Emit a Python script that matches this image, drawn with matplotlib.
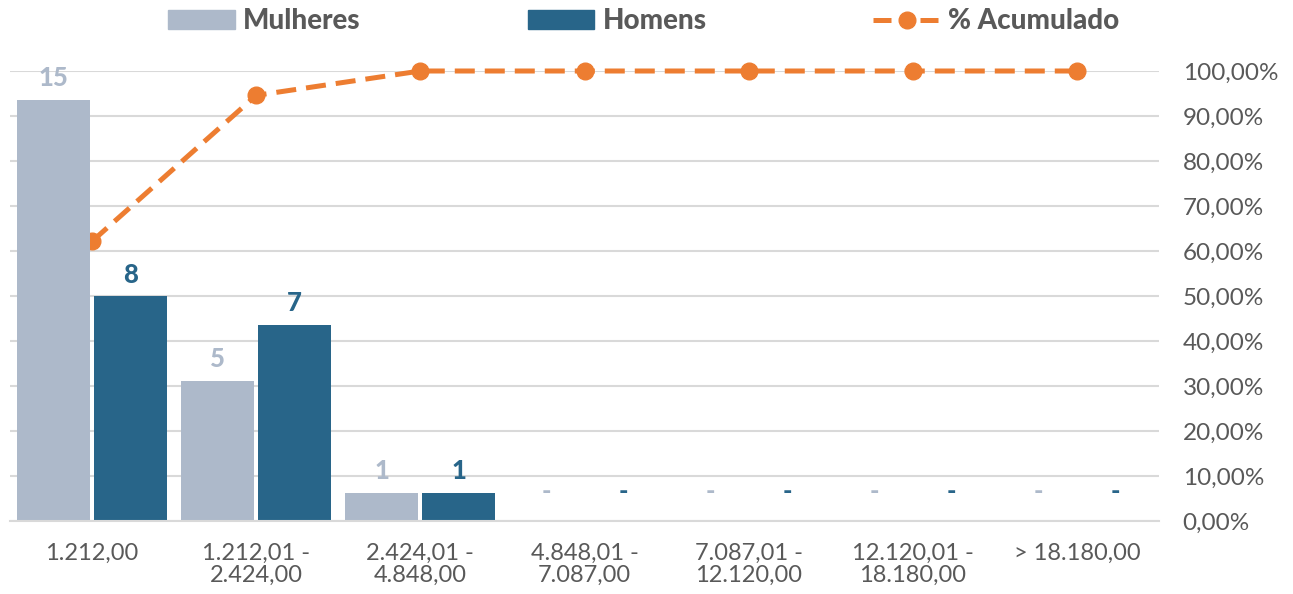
import numpy as np
import matplotlib as mpl
import matplotlib.pyplot as plt
from matplotlib.lines import Line2D
from matplotlib.patches import Patch

mpl.rcParams['font.family'] = ['Lato', 'DejaVu Sans']

# data
categories = ['1.212,00', '1.212,01 -\n2.424,00', '2.424,01 -\n4.848,00',
              '4.848,01 -\n7.087,00', '7.087,01 -\n12.120,00',
              '12.120,01 -\n18.180,00', '> 18.180,00']
mulheres = [15, 5, 1, 0, 0, 0, 0]
homens = [8, 7, 1, 0, 0, 0, 0]
acumulado = [0.6216, 0.9459, 1.0, 1.0, 1.0, 1.0, 1.0]
pct_ticks = [0.0, 0.1, 0.2, 0.3, 0.4, 0.5, 0.6, 0.7, 0.8, 0.9, 1.0]

c_mul = '#ADB9CA'
c_hom = '#286589'
c_acc = '#ED7D31'
c_txt = '#595959'
c_grid = '#D9D9D9'

fig = plt.figure(figsize=(12.93, 5.94), dpi=100)
ax = fig.add_axes([10/1293, 73/594, 1149/1293, 450/594])
ax2 = ax.twinx()

x = np.arange(len(categories))
w = 0.445
off = 0.235
b1 = ax.bar(x - off, mulheres, w, color=c_mul, zorder=2)
b2 = ax.bar(x + off, homens, w, color=c_hom, zorder=2)

for rects, vals, col in [(b1, mulheres, c_mul), (b2, homens, c_hom)]:
    for r, v in zip(rects, vals):
        lab = str(v) if v else '-'
        ax.annotate(lab, (r.get_x() + r.get_width()/2, v), xytext=(0, 7 if v else 12),
                    textcoords='offset points', ha='center', va='bottom',
                    fontsize=18.5, fontweight='black', color=col)

ax.set_xlim(-0.5, len(categories) - 0.5)
ax.set_ylim(0, 15*450/421)
ax.set_yticks([])
ax.set_xticks(x)
ax.set_xticklabels(categories, fontsize=17, color=c_txt, linespacing=1.05)
ax.tick_params(axis='x', length=0, pad=16)
for s in ['top', 'left', 'right']:
    ax.spines[s].set_visible(False)
ax.spines['bottom'].set_color(c_grid)
ax.spines['bottom'].set_linewidth(1.5)

ax2.plot(x, acumulado, color=c_acc, lw=3.6, ls=(0, (4.0, 2.0)), marker='o',
         ms=12, zorder=5, clip_on=False)
ax2.set_ylim(0, 1.0)
ax2.set_yticks(pct_ticks)
ax2.set_yticklabels([('%.2f%%' % (t*100)).replace('.', ',') for t in pct_ticks],
                    fontsize=17.5, color=c_txt)
ax2.tick_params(axis='y', length=0, pad=17)
for s in ax2.spines.values():
    s.set_visible(False)
ax2.yaxis.grid(True, color=c_grid, lw=1.5)
ax.set_zorder(ax2.get_zorder() + 1)
ax.patch.set_visible(False)

handles = [Patch(color=c_mul), Patch(color=c_hom),
           Line2D([], [], color=c_acc, lw=3.6, ls=(0, (3.6, 5.8)), marker='o', ms=12)]
labels = ['Mulheres', 'Homens', '% Acumulado']
leg = fig.legend(handles, labels, loc='upper center', bbox_to_anchor=(0.498, 1.028), ncol=3,
                 frameon=False, handlelength=2.4, handleheight=0.65, handletextpad=0.3,
                 columnspacing=6.0, prop={'size': 20, 'weight': 'black'})
for t in leg.get_texts():
    t.set_color(c_txt)

fig.savefig('out.png', dpi=100)
